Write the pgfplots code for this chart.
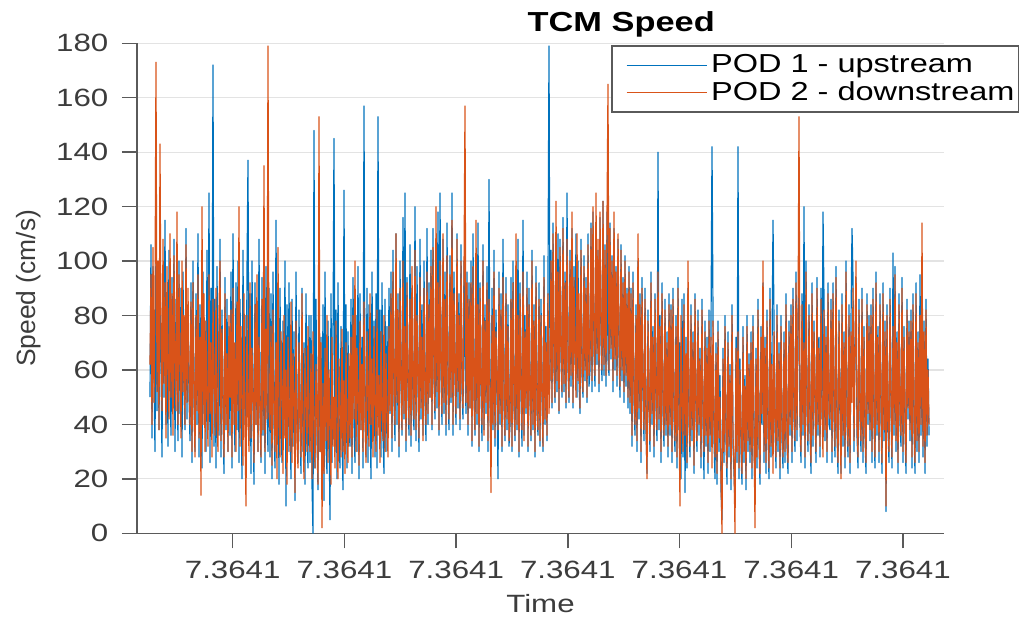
\documentclass[border=0pt]{standalone}
\usepackage{fontspec}
\setmainfont{Liberation Sans}[FakeStretch=1.25]
\newfontfamily\plainfont{Liberation Sans}
\usepackage{pgfplots}
\usepackage{pgfplotstable}
\pgfplotsset{compat=1.18}
\definecolor{mblue}{rgb}{0,0.447,0.741}
\definecolor{morange}{rgb}{0.85,0.325,0.098}
\definecolor{axgray}{HTML}{5A5A5A}
\definecolor{txgray}{HTML}{3C3C3C}

% POD 1 - upstream (one value per pixel step)
\pgfplotstableread[row sep=\\, header=false]{
50\\106\\35\\98\\58\\30\\110\\45\\92\\38\\100\\62\\28\\96\\50\\115\\40\\88\\32\\104\\56\\36\\94\\48\\108\\30\\86\\60\\34\\100\\44\\90\\28\\96\\52\\38\\112\\42\\84\\50\\
34\\92\\26\\100\\48\\30\\88\\40\\110\\28\\84\\52\\24\\96\\44\\78\\30\\104\\38\\125\\26\\90\\46\\172\\32\\86\\24\\98\\50\\36\\108\\28\\82\\44\\22\\94\\38\\86\\30\\76\\
36\\96\\24\\110\\46\\30\\92\\38\\100\\26\\86\\52\\20\\104\\40\\80\\28\\96\\137\\34\\88\\22\\100\\48\\18\\92\\40\\76\\30\\108\\44\\26\\94\\36\\84\\22\\98\\46\\30\\90\\
28\\88\\20\\96\\40\\24\\115\\34\\82\\18\\90\\44\\26\\78\\36\\100\\10\\84\\30\\92\\42\\20\\86\\32\\74\\12\\96\\38\\26\\82\\40\\22\\90\\30\\70\\18\\88\\36\\24\\80\\
26\\80\\18\\0\\148\\24\\86\\34\\16\\90\\30\\72\\20\\84\\12\\96\\32\\22\\78\\40\\5\\88\\26\\70\\145\\30\\82\\20\\92\\36\\24\\76\\38\\16\\126\\30\\84\\24\\74\\40\\
32\\86\\22\\94\\40\\26\\80\\30\\98\\20\\88\\38\\72\\24\\157\\42\\28\\90\\26\\84\\46\\20\\96\\34\\78\\28\\88\\24\\153\\40\\82\\28\\92\\36\\22\\86\\30\\76\\38\\90\\
44\\96\\30\\104\\48\\34\\110\\40\\88\\28\\100\\54\\36\\116\\42\\125\\30\\94\\50\\36\\106\\32\\90\\46\\38\\120\\34\\98\\52\\30\\108\\42\\84\\36\\100\\48\\34\\112\\40\\92\\
50\\104\\38\\112\\56\\42\\98\\46\\118\\36\\125\\58\\40\\108\\44\\96\\36\\114\\52\\38\\102\\48\\125\\36\\96\\56\\40\\110\\46\\88\\38\\106\\52\\42\\100\\62\\44\\96\\36\\92\\
46\\100\\32\\110\\50\\36\\96\\40\\114\\30\\92\\52\\34\\106\\38\\84\\44\\98\\30\\130\\48\\26\\90\\38\\104\\32\\82\\50\\20\\96\\40\\88\\30\\108\\46\\34\\94\\38\\84\\32\\
40\\94\\30\\100\\46\\34\\88\\38\\108\\28\\92\\50\\32\\115\\36\\80\\44\\96\\30\\90\\48\\34\\104\\38\\84\\28\\98\\44\\36\\92\\32\\86\\50\\30\\102\\40\\76\\34\\94\\179\\
56\\104\\46\\114\\60\\48\\98\\52\\110\\44\\108\\64\\50\\116\\52\\96\\46\\125\\60\\48\\104\\54\\112\\46\\98\\62\\110\\50\\100\\56\\44\\108\\58\\50\\102\\56\\94\\48\\110\\54\\
60\\114\\52\\118\\66\\54\\110\\62\\104\\52\\116\\70\\56\\122\\58\\106\\54\\118\\64\\58\\114\\64\\102\\52\\112\\60\\98\\54\\108\\66\\50\\106\\56\\94\\48\\102\\54\\90\\46\\98\\
44\\90\\32\\96\\48\\36\\84\\30\\100\\42\\88\\26\\94\\50\\34\\90\\38\\22\\82\\46\\30\\96\\40\\76\\28\\88\\46\\34\\140\\38\\80\\26\\92\\44\\32\\86\\36\\74\\28\\88\\
36\\84\\26\\90\\42\\30\\80\\24\\94\\38\\70\\20\\86\\28\\88\\15\\72\\24\\90\\40\\28\\84\\34\\74\\22\\88\\42\\30\\82\\36\\68\\24\\86\\40\\20\\78\\32\\72\\22\\82\\
30\\76\\142\\80\\34\\20\\70\\18\\78\\30\\58\\16\\5\\68\\26\\80\\34\\18\\74\\28\\62\\16\\84\\32\\22\\10\\72\\26\\142\\20\\64\\30\\18\\76\\26\\58\\16\\80\\30\\66\\
26\\74\\20\\80\\34\\12\\68\\24\\86\\32\\18\\76\\40\\92\\26\\72\\22\\82\\36\\20\\90\\28\\66\\115\\78\\38\\24\\84\\30\\70\\20\\80\\34\\24\\74\\26\\88\\32\\22\\78\\
36\\84\\26\\90\\42\\30\\96\\34\\80\\92\\40\\26\\88\\36\\120\\24\\100\\44\\30\\84\\38\\22\\92\\32\\78\\46\\26\\94\\36\\72\\28\\90\\42\\118\\86\\34\\76\\26\\92\\40\\
38\\86\\26\\92\\42\\28\\98\\36\\22\\82\\46\\22\\88\\32\\74\\24\\100\\40\\28\\84\\22\\78\\112\\94\\30\\70\\94\\36\\24\\86\\42\\30\\90\\26\\76\\36\\22\\88\\40\\80\\
34\\84\\26\\90\\40\\24\\96\\36\\76\\26\\88\\42\\22\\92\\34\\78\\8\\84\\38\\26\\90\\44\\24\\103\\36\\98\\30\\74\\22\\88\\40\\32\\94\\26\\76\\38\\22\\86\\42\\78\\
34\\82\\24\\88\\38\\22\\92\\30\\74\\26\\95\\36\\84\\28\\78\\22\\86\\32\\64\\36\\
}\podone

% POD 2 - downstream
\pgfplotstableread[row sep=\\, header=false]{
62\\95\\40\\105\\48\\86\\173\\52\\100\\38\\143\\70\\45\\108\\55\\92\\35\\98\\60\\42\\110\\50\\88\\36\\102\\58\\45\\118\\40\\95\\62\\35\\100\\52\\80\\40\\106\\48\\90\\58\\
40\\85\\30\\92\\52\\28\\80\\45\\95\\35\\72\\14\\120\\40\\88\\30\\78\\50\\32\\95\\44\\70\\28\\86\\55\\36\\90\\42\\30\\82\\100\\34\\75\\48\\28\\88\\40\\66\\30\\80\\
50\\82\\28\\90\\40\\70\\30\\85\\45\\120\\32\\76\\48\\25\\88\\38\\10\\80\\44\\30\\92\\35\\68\\50\\26\\84\\40\\95\\30\\72\\46\\28\\86\\38\\135\\30\\75\\42\\179\\45\\
38\\76\\25\\82\\45\\30\\70\\20\\105\\40\\28\\74\\52\\22\\80\\35\\60\\18\\72\\44\\30\\85\\26\\66\\50\\15\\78\\34\\24\\70\\42\\28\\88\\36\\20\\68\\48\\30\\76\\40\\
30\\66\\20\\74\\38\\24\\62\\45\\18\\153\\30\\70\\2\\55\\22\\68\\34\\80\\26\\60\\40\\18\\72\\32\\50\\24\\78\\36\\20\\64\\45\\28\\75\\30\\56\\22\\70\\38\\26\\66\\
35\\72\\28\\80\\42\\100\\30\\68\\50\\25\\78\\38\\62\\30\\85\\44\\26\\74\\52\\32\\88\\40\\64\\28\\76\\48\\30\\82\\36\\58\\26\\74\\45\\34\\80\\30\\66\\42\\28\\76\\
45\\88\\35\\96\\52\\40\\110\\48\\82\\32\\90\\58\\38\\100\\44\\76\\34\\92\\55\\40\\86\\36\\98\\50\\42\\104\\38\\80\\60\\35\\94\\46\\72\\34\\90\\52\\40\\96\\44\\84\\
50\\98\\40\\105\\58\\45\\120\\52\\92\\38\\100\\62\\44\\110\\48\\86\\40\\102\\56\\42\\95\\50\\115\\40\\88\\60\\44\\108\\52\\80\\42\\100\\56\\46\\96\\157\\48\\92\\40\\86\\
46\\92\\34\\98\\50\\38\\115\\44\\84\\32\\90\\56\\40\\100\\36\\78\\48\\92\\34\\86\\52\\15\\80\\40\\96\\35\\74\\58\\38\\90\\44\\82\\32\\94\\50\\36\\88\\42\\76\\34\\
42\\86\\32\\92\\48\\36\\110\\40\\80\\30\\88\\54\\38\\96\\34\\74\\46\\90\\32\\84\\50\\36\\100\\40\\78\\30\\92\\46\\38\\86\\34\\80\\52\\32\\94\\42\\70\\36\\88\\44\\
58\\100\\48\\110\\62\\50\\122\\56\\96\\45\\105\\68\\52\\112\\55\\92\\48\\108\\64\\50\\100\\58\\118\\48\\94\\66\\50\\110\\56\\88\\46\\104\\62\\52\\98\\60\\90\\50\\106\\58\\
64\\112\\56\\120\\70\\58\\125\\66\\108\\55\\118\\74\\60\\122\\62\\104\\58\\116\\165\\60\\112\\68\\100\\56\\118\\64\\96\\58\\110\\70\\54\\104\\60\\92\\52\\100\\58\\88\\50\\96\\
48\\88\\36\\92\\52\\40\\80\\34\\110\\46\\84\\30\\90\\55\\38\\86\\42\\20\\78\\50\\34\\92\\44\\72\\32\\86\\50\\38\\96\\42\\76\\30\\88\\48\\36\\82\\40\\70\\32\\84\\
40\\82\\30\\86\\46\\34\\76\\28\\90\\42\\10\\80\\48\\30\\84\\36\\66\\26\\100\\44\\32\\80\\38\\70\\25\\86\\46\\34\\78\\40\\64\\28\\82\\44\\30\\74\\36\\68\\26\\78\\
36\\72\\24\\78\\40\\28\\66\\22\\74\\35\\50\\20\\0\\64\\30\\76\\38\\24\\70\\32\\58\\20\\80\\36\\26\\0\\68\\30\\74\\24\\60\\36\\22\\72\\30\\54\\20\\76\\34\\62\\
30\\70\\24\\76\\38\\2\\64\\28\\82\\36\\22\\72\\44\\100\\30\\68\\26\\78\\40\\24\\86\\32\\62\\22\\74\\42\\28\\80\\34\\66\\24\\76\\38\\28\\70\\30\\84\\36\\26\\74\\
40\\80\\30\\86\\46\\34\\92\\38\\76\\153\\44\\30\\84\\40\\70\\28\\96\\48\\34\\80\\42\\26\\88\\36\\74\\50\\30\\90\\40\\68\\32\\86\\46\\28\\82\\38\\72\\30\\88\\44\\
42\\82\\30\\88\\46\\32\\94\\40\\26\\78\\50\\20\\84\\36\\70\\28\\96\\44\\32\\80\\26\\74\\48\\90\\34\\66\\100\\40\\28\\82\\46\\34\\86\\30\\72\\40\\26\\84\\44\\76\\
38\\80\\30\\86\\44\\28\\92\\40\\72\\30\\84\\46\\26\\88\\38\\74\\10\\80\\42\\30\\86\\48\\28\\76\\40\\95\\34\\70\\26\\84\\44\\36\\90\\30\\72\\42\\26\\82\\46\\74\\
38\\78\\28\\84\\42\\26\\88\\34\\70\\30\\80\\40\\114\\32\\74\\26\\82\\36\\60\\40\\
}\podtwo

\begin{document}
\begin{tikzpicture}
\begin{axis}[
  scale only axis,
  width=403.5pt, height=245pt,
  xmin=137, xmax=944, ymin=0, ymax=180,
  axis x line*=bottom, axis y line*=left,
  axis line style={axgray, line width=0.7pt, -},
  tick align=outside,
  major tick length=7.5pt,
  tick style={axgray, line width=0.7pt},
  xtick={232.7,344.4,456.1,567.8,679.5,791.2,902.9},
  xticklabels={7.3641,7.3641,7.3641,7.3641,7.3641,7.3641,7.3641},
  ytick={0,20,...,180},
  /pgf/number format/assume math mode=true,
  xticklabel style={font=\fontsize{12.5}{14}\selectfont, text=txgray, yshift=-2.6pt},
  yticklabel style={font=\fontsize{12.5}{14}\selectfont, text=txgray, xshift=-3.3pt},
  ymajorgrids,
  grid style={gray!22, line width=0.6pt},
  title={TCM Speed},
  title style={at={(axis description cs:0.6,1)}, anchor=base, font=\fontsize{13.75}{15}\selectfont\bfseries},
  xlabel={Time},
  xlabel style={at={(axis description cs:0.5,0)}, anchor=base, yshift=-39.8pt, font=\fontsize{12.5}{14}\selectfont, text=txgray},
  ylabel={Speed (cm/s)},
  ylabel style={at={(axis description cs:-0.1344,0.5)}, anchor=center, font=\plainfont\fontsize{13.2}{15}\selectfont, text=txgray},
  legend cell align=left,
  legend style={at={(axis description cs:0.5874,0.9965)}, anchor=north west, draw=axgray, line width=0.9pt,
    font=\fontsize{13}{15}\selectfont, inner xsep=0pt, inner ysep=3pt, row sep=0pt, fill=white, nodes={inner ysep=1.4pt}},
  legend image code/.code={\path (0pt,-4pt) (47pt,4pt); \draw[#1, line width=0.5pt] (7pt,0pt) -- (47pt,0pt);},
]
\addplot[draw=mblue, line width=0.6pt, line join=round] table[x expr=\coordindex+150, y index=0] {\podone};
\addlegendentry{POD 1 - upstream}
\addplot[draw=morange, line width=0.6pt, line join=round] table[x expr=\coordindex+150, y index=0] {\podtwo};
\addlegendentry{POD 2 - downstream}
\end{axis}
\pgfresetboundingbox
\path ([shift={(-68.5pt,-44.8pt)}]current axis.south west) rectangle ([shift={(38pt,21.65pt)}]current axis.north east);
\end{tikzpicture}
\end{document}
